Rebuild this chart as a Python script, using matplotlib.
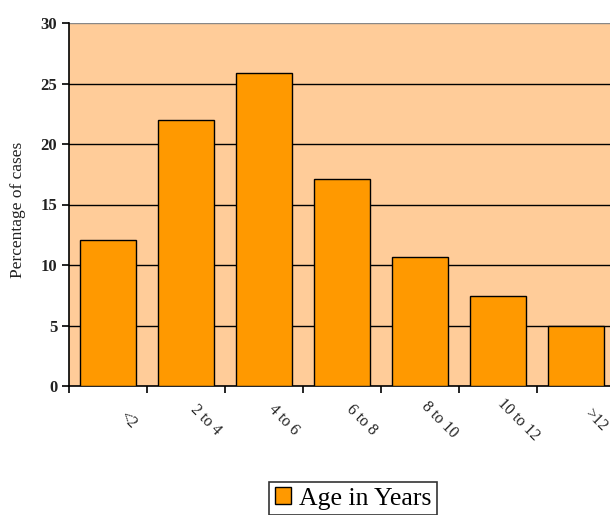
import matplotlib.pyplot as plt
import matplotlib.transforms as mtransforms
import numpy as np

age_groups = ['<2', '2 to 4', '4 to 6', '6 to 8', '8 to 10', '10 to 12', '>12']
pct_cases = [12.1, 22.0, 25.9, 17.1, 10.7, 7.4, 5.0]
y_ticks = [0, 5, 10, 15, 20, 25, 30]


def main() -> None:
    plt.rcParams['font.family'] = ['Liberation Serif', 'DejaVu Serif']

    fig = plt.figure(figsize=(6.1, 5.15), dpi=100)
    # plot area runs a little past the right edge of the canvas
    ax = fig.add_axes([69 / 610, 1 - 386 / 515, 546 / 610, 363 / 515])
    ax.set_facecolor('#FFCC99')

    x = np.arange(len(age_groups))
    ax.bar(x, pct_cases, width=0.73, color='#FF9900', edgecolor='black',
           linewidth=1.0, zorder=3, label='Age in Years')

    ax.set_xlim(-0.5, len(age_groups) - 0.5)
    ax.set_ylim(0, 30)
    ax.set_yticks(y_ticks)
    ax.set_yticklabels([str(t) for t in y_ticks], fontsize=12, fontweight='bold',
                       color='#222222')
    for t in y_ticks[1:]:
        ax.axhline(t, color='black' if t < 30 else '#888888', linewidth=1.0, zorder=1)

    ax.set_xticks(np.arange(len(age_groups) + 1) - 0.5)
    ax.set_xticklabels([])
    ax.tick_params(axis='both', direction='out', length=5, width=1.2, color='black')

    # slanted category names, centred below and to the right of each bar
    offset = mtransforms.ScaledTranslation(20 / 100, -34 / 100, fig.dpi_scale_trans)
    for xi, lab in zip(x, age_groups):
        ax.text(xi, 0, lab, rotation=-45, rotation_mode='anchor', ha='center',
                va='center', fontsize=11.5, color='#222222',
                transform=ax.get_xaxis_transform() + offset)

    for side in ['top', 'right']:
        ax.spines[side].set_visible(False)
    ax.spines['left'].set_linewidth(1.2)
    ax.spines['bottom'].set_linewidth(1.2)

    fig.text(18 / 610, 1 - 210 / 515, 'Percentage of cases', rotation=90,
             ha='center', va='center', fontsize=12.5, color='#222222')

    leg = fig.legend(loc='upper center', bbox_to_anchor=(353 / 610, 1 - 482 / 515),
                     fontsize=18.5, frameon=True, fancybox=False, edgecolor='black',
                     handlelength=0.65, handleheight=0.65, handletextpad=0.3,
                     borderpad=0.2, borderaxespad=0)
    leg.get_frame().set_linewidth(1.2)

    fig.savefig('out.png', dpi=100)


if __name__ == '__main__':
    main()
